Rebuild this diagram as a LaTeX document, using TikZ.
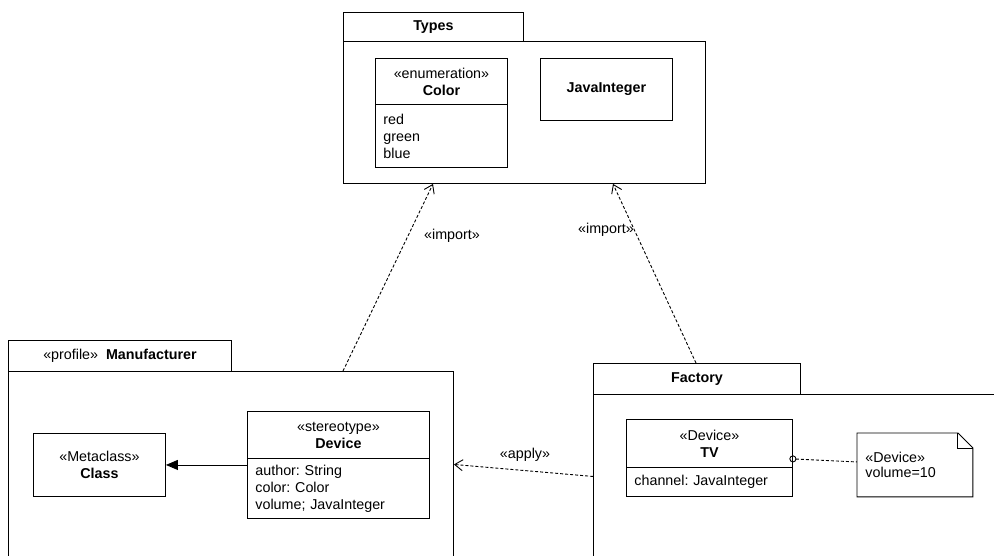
\documentclass[tikz,border=0pt]{standalone}
\usepackage{fontspec}
\setmainfont{Liberation Sans}
\usetikzlibrary{arrows.meta,positioning}
\frenchspacing

\newcommand\umlfont{\fontsize{14.3}{17}\selectfont}
\tikzset{
  pkgtab/.style={draw, rectangle, anchor=north west, inner sep=0pt, font=\umlfont\bfseries},
  pkgbody/.style={draw, rectangle, anchor=north west, inner sep=0pt},
  clshead/.style={draw, rectangle, anchor=north west, inner sep=0pt, align=center},
  clsattr/.style={draw, rectangle, anchor=north west, inner xsep=8pt, inner ysep=0pt, align=left},
  deparrow/.style={dash pattern=on 3pt off 2pt, -{Straight Barb[length=8pt,width=11pt]}},
  lbl/.style={inner sep=1pt}
}

\begin{document}
\begin{tikzpicture}[x=1pt,y=-1pt,line width=0.9pt,font=\umlfont]
  \clip (0,0) rectangle (994,555);

  % Types package
  \node[pkgtab, minimum width=180, minimum height=29] (typestab) at (343,12) {Types};
  \node[pkgbody, minimum width=362, minimum height=142] (typesbody) at (343,41) {};
  \node[clshead, minimum width=132, minimum height=46] (colorhead) at (375,58)
    {«enumeration»\\\textbf{Color}};
  \node[clsattr, text width=116, minimum height=63] (colorattr) at (375,104)
    {red\\green\\blue};
  \node[clshead, minimum width=132, minimum height=62] (javaint) at (540,58)
    {\textbf{JavaInteger}};

  % Manufacturer profile
  \node[pkgtab, minimum width=223, minimum height=31] (mfrtab) at (8,340)
    {\mdseries«profile»\ \ \textbf{Manufacturer}};
  \node[pkgbody, minimum width=445, minimum height=200] (mfrbody) at (8,371) {};
  \node[clshead, minimum width=132, minimum height=63] (metacls) at (33,433)
    {«Metaclass»\\\textbf{Class}};
  \node[clshead, minimum width=182, minimum height=47] (devhead) at (247,411)
    {«stereotype»\\\textbf{Device}};
  \node[clsattr, text width=166, minimum height=60] (devattr) at (247,458)
    {author: String\\color: Color\\volume; JavaInteger};

  % Factory package
  \node[pkgtab, minimum width=207, minimum height=31] (factab) at (593,363) {Factory};
  \node[pkgbody, minimum width=420, minimum height=180] (facbody) at (593,394) {};
  \node[clshead, minimum width=166, minimum height=48] (tvhead) at (626,419)
    {«Device»\\\textbf{TV}};
  \node[clsattr, text width=150, minimum height=29] (tvattr) at (626,467)
    {channel: JavaInteger};
  \node[anchor=north west, inner xsep=8pt, inner ysep=0pt, text width=99,
    minimum height=63, align=left, font=\fontsize{14.3}{15.5}\selectfont] (note) at (857,433)
    {«Device»\\volume=10};
  \draw (note.north west) -- ([xshift=-15pt]note.north east)
    -- ([yshift=-15pt]note.north east) -- (note.south east)
    -- (note.south west) -- cycle;
  \draw ([xshift=-15pt]note.north east) |- ([yshift=-15pt]note.north east);

  % Connectors
  \draw[-{Triangle[length=12pt,width=10pt]}] (metacls.east -| devhead.west) -- (metacls.east);
  \draw[deparrow] ([xshift=335pt]mfrbody.north west) -- ([xshift=90pt]typesbody.south west);
  \draw[deparrow] ([xshift=103pt]factab.north west) -- ([xshift=270pt]typesbody.south west);
  \draw[deparrow] ([yshift=8pt]facbody.west) -- ([yshift=7pt]mfrbody.east);
  \draw[dash pattern=on 3pt off 2pt, {Circle[open,length=7pt]}-, shorten <=-3.5pt]
    ([yshift=9pt]tvhead.south east) -- ([yshift=3pt]note.west);

  \node[lbl] (imp1) at (452,236) {«import»};
  \node[lbl] (imp2) at (606,230) {«import»};
  \node[lbl] (apply) at (525,455) {«apply»};
\end{tikzpicture}
\end{document}
